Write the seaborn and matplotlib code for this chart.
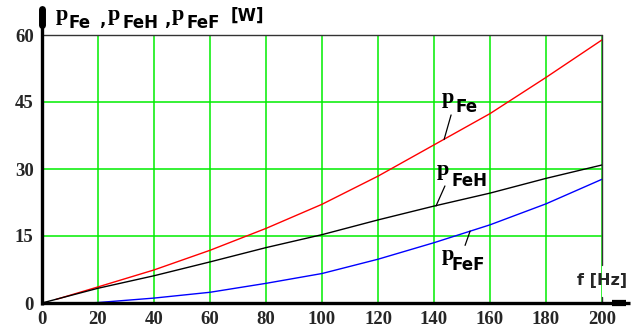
import matplotlib
matplotlib.use("Agg")
import matplotlib.pyplot as plt
import seaborn as sns
import pandas as pd

# Frequency f [Hz] and iron losses [W]
f_total = [5, 20, 40, 60, 80, 100, 120, 140, 160, 180, 200]
p_fe = [0.8, 3.6, 7.4, 11.8, 16.7, 22.1, 28.4, 35.4, 42.4, 50.5, 58.9]

f_hyst = [0, 20, 40, 60, 80, 100, 120, 140, 160, 180, 200]
p_feh = [0.0, 3.3, 6.1, 9.2, 12.4, 15.3, 18.6, 21.7, 24.6, 27.9, 30.9]

f_eddy = [16, 20, 40, 60, 80, 100, 120, 140, 160, 180, 200]
p_fef = [0.0, 0.1, 1.1, 2.4, 4.4, 6.6, 9.8, 13.5, 17.5, 22.2, 27.7]

x_ticks = [0, 20, 40, 60, 80, 100, 120, 140, 160, 180, 200]
y_ticks = [0, 15, 30, 45, 60]

sns.set_style("white")
plt.rcParams["font.family"] = ["DejaVu Sans"]

W, H = 639, 336
fig = plt.figure(figsize=(W / 100, H / 100), dpi=100)
ax = fig.add_axes([42 / W, 1 - 303 / H, 560 / W, 268 / H])

df = pd.concat([
    pd.DataFrame({"f": f_total, "p": p_fe, "s": "pFe"}),
    pd.DataFrame({"f": f_hyst, "p": p_feh, "s": "pFeH"}),
    pd.DataFrame({"f": f_eddy, "p": p_fef, "s": "pFeF"}),
])
palette = {"pFe": "#ff0000", "pFeH": "#000000", "pFeF": "#0000ff"}
sns.lineplot(data=df, x="f", y="p", hue="s", palette=palette, ax=ax,
             linewidth=1.0, legend=False, sort=False, estimator=None, zorder=3)

ax.set_xlim(0, 200)
ax.set_ylim(0, 60)
ax.set_xticks(x_ticks)
ax.set_yticks(y_ticks)
ax.set_xlabel("")
ax.set_ylabel("")
ax.grid(True, color="#00ee00", linewidth=1.1, zorder=1)
ax.set_axisbelow(True)
ax.tick_params(length=0, pad=6)
for lab in ax.get_xticklabels() + ax.get_yticklabels():
    lab.set_fontfamily("Liberation Serif")
    lab.set_fontweight("bold")
    lab.set_fontsize(13.5)

for sp in ax.spines.values():
    sp.set_visible(False)

# Frame: thin top and right edges, heavy axes with arrow ends
xt = ax.get_xaxis_transform()
ax.plot([0, 200], [1, 1], transform=xt, color="#333333", lw=1.0, clip_on=False, zorder=4)
ax.plot([200, 200], [8.5, 60], color="#333333", lw=1.0, clip_on=False, zorder=4)
ax.plot([200, 200], [0, 1.3], color="#333333", lw=1.0, clip_on=False, zorder=4)
ax.plot([0, 0], [-0.4, 66], color="black", lw=2.4, clip_on=False, zorder=5,
        solid_capstyle="butt")
ax.plot([0, 0], [62.2, 65.8], color="black", lw=5, clip_on=False, zorder=5,
        solid_capstyle="round")
ax.plot([-0.5, 210], [0, 0], color="black", lw=2.4, clip_on=False, zorder=5,
        solid_capstyle="butt")
ax.plot([203.5, 208.5], [0, 0], color="black", lw=4.5, clip_on=False, zorder=5,
        solid_capstyle="butt")

sans = dict(fontweight="bold", color="black", ha="left", va="baseline",
            family="DejaVu Sans")
serif = dict(fontweight="bold", color="black", ha="left", va="baseline",
             family="Liberation Serif")

P_SIZE = 16
SUB_SIZE = 12


def fig_text(s, px, py, size, style):
    fig.text(px / W, 1 - py / H, s, fontsize=size, **style)


# Axis titles
fig_text("p", 56, 20, P_SIZE, serif)
fig_text("Fe", 69, 28, SUB_SIZE, sans)
fig_text(",", 99, 25, SUB_SIZE, sans)
fig_text("p", 108, 20, P_SIZE, serif)
fig_text("FeH", 123, 28, SUB_SIZE, sans)
fig_text(",", 164, 25, SUB_SIZE, sans)
fig_text("p", 172, 20, P_SIZE, serif)
fig_text("FeF", 187, 28, SUB_SIZE, sans)
fig_text("[W]", 231, 21, 12, sans)
fig.text(602 / W, 1 - 280 / H, "f [Hz]", fontsize=11.5, fontweight="bold",
         family="DejaVu Sans", ha="center", va="center")

# Curve labels with leader lines
curve_labels = [
    ("Fe", (142.9, 44.8), (147.5, 42.8), (146.1, 42.1), (143.6, 36.6)),
    ("FeH", (141.1, 28.7), (146.4, 26.2), (143.9, 26.2), (140.7, 21.7)),
    ("FeF", (142.6, 9.7), (146.4, 7.4), (152.9, 16.1), (151.1, 12.9)),
]
for sub, p_pos, s_pos, l0, l1 in curve_labels:
    ax.text(*p_pos, "p", fontsize=P_SIZE, zorder=6, **serif)
    ax.text(*s_pos, sub, fontsize=SUB_SIZE, zorder=6, **sans)
    ax.plot([l0[0], l1[0]], [l0[1], l1[1]], color="black", lw=0.9, zorder=6)

fig.savefig("out.png", dpi=100, facecolor="white")
